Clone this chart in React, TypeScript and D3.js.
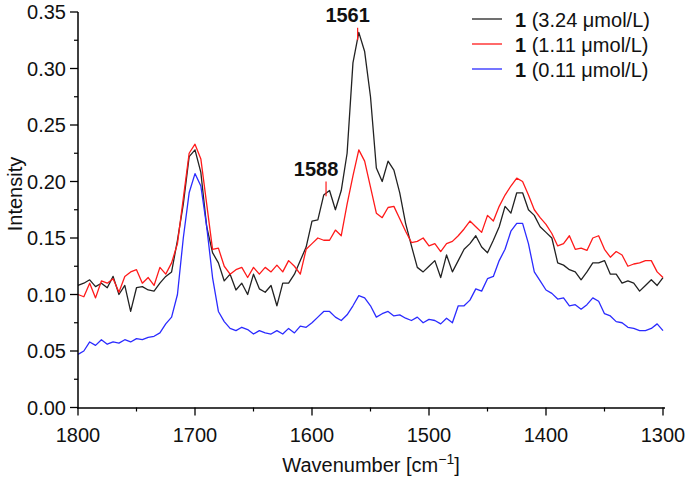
import React from "react";
import * as d3 from "d3";

// sample wavenumbers (cm^-1), 1800 -> 1300 every 5
const wavenumbers: number[] = d3.range(1800, 1299, -5);

const black324: number[] = [
  0.108, 0.11, 0.113, 0.107, 0.11, 0.106, 0.116, 0.1, 0.108, 0.085,
  0.106, 0.107, 0.104, 0.103, 0.11, 0.116, 0.12, 0.148, 0.18, 0.222,
  0.228, 0.208, 0.16, 0.137, 0.128, 0.112, 0.118, 0.104, 0.11, 0.1,
  0.118, 0.105, 0.102, 0.108, 0.09, 0.11, 0.11, 0.118, 0.13, 0.142,
  0.165, 0.166, 0.188, 0.192, 0.175, 0.192, 0.225, 0.305, 0.332, 0.315,
  0.275, 0.212, 0.2, 0.218, 0.21, 0.19, 0.163, 0.143, 0.124, 0.12,
  0.125, 0.13, 0.115, 0.135, 0.12, 0.13, 0.14, 0.145, 0.152, 0.142,
  0.137, 0.148, 0.16, 0.178, 0.172, 0.19, 0.19, 0.175, 0.17, 0.16,
  0.155, 0.15, 0.128, 0.126, 0.122, 0.12, 0.113, 0.12, 0.128, 0.128,
  0.13, 0.118, 0.118, 0.11, 0.112, 0.11, 0.103, 0.108, 0.113, 0.108,
  0.115,
];

const red111: number[] = [
  0.1, 0.098, 0.11, 0.097, 0.112, 0.11, 0.114, 0.102, 0.116, 0.12,
  0.122, 0.11, 0.115, 0.108, 0.124, 0.118, 0.128, 0.145, 0.185, 0.225,
  0.233, 0.22, 0.18, 0.14, 0.141, 0.125, 0.118, 0.122, 0.124, 0.115,
  0.124, 0.118, 0.124, 0.12, 0.126, 0.12, 0.13, 0.125, 0.118, 0.14,
  0.145, 0.15, 0.148, 0.148, 0.157, 0.152, 0.18, 0.205, 0.228, 0.218,
  0.195, 0.172, 0.168, 0.177, 0.178, 0.167, 0.156, 0.146, 0.147, 0.15,
  0.143, 0.145, 0.138, 0.145, 0.147, 0.152, 0.158, 0.165, 0.16, 0.155,
  0.17, 0.165, 0.178, 0.188, 0.196, 0.203, 0.2, 0.188, 0.175, 0.168,
  0.162, 0.154, 0.143, 0.145, 0.152, 0.14, 0.141, 0.139, 0.15, 0.152,
  0.14, 0.133, 0.138, 0.135, 0.125, 0.127, 0.128, 0.13, 0.13, 0.12,
  0.115,
];

const blue011: number[] = [
  0.047, 0.05, 0.058, 0.055, 0.06, 0.056, 0.058, 0.057, 0.06, 0.058,
  0.061, 0.06, 0.062, 0.063, 0.066, 0.074, 0.08, 0.1, 0.15, 0.19,
  0.207, 0.196, 0.16, 0.115, 0.085, 0.076, 0.07, 0.068, 0.071, 0.069,
  0.065, 0.068, 0.066, 0.065, 0.068, 0.065, 0.07, 0.066, 0.072, 0.071,
  0.075, 0.08, 0.085, 0.085, 0.08, 0.077, 0.082, 0.09, 0.099, 0.097,
  0.09, 0.08, 0.083, 0.085, 0.081, 0.082, 0.079, 0.077, 0.08, 0.075,
  0.078, 0.077, 0.074, 0.079, 0.075, 0.09, 0.09, 0.095, 0.105, 0.103,
  0.114, 0.116, 0.13, 0.14, 0.156, 0.163, 0.163, 0.145, 0.12, 0.112,
  0.104, 0.101, 0.096, 0.097, 0.09, 0.091, 0.087, 0.091, 0.097, 0.094,
  0.083, 0.081, 0.076, 0.075, 0.071, 0.07, 0.068, 0.068, 0.07, 0.074,
  0.068,
];

const seriesNames: string[] = ["3.24 μmol/L", "1.11 μmol/L", "0.11 μmol/L"];
const seriesColors: string[] = ["#222222", "#ff1a1a", "#2b2bff"];
const seriesValues: number[][] = [black324, red111, blue011];

const yTicks: number[] = [0, 0.05, 0.1, 0.15, 0.2, 0.25, 0.3, 0.35];
const yMinor: number[] = [0.025, 0.075, 0.125, 0.175, 0.225, 0.275, 0.325];
const xTicks: number[] = [1800, 1700, 1600, 1500, 1400, 1300];
const xMinor: number[] = [1750, 1650, 1550, 1450, 1350];

const peakLabels: { w: number; lo: number; hi: number }[] = [
  { w: 1561, lo: 0.325, hi: 0.336 },
  { w: 1588, lo: 0.187, hi: 0.2 },
];

const FONT = "'Liberation Sans', Arial, sans-serif";

export default function App() {
  const x = d3.scaleLinear().domain([1800, 1300]).range([78, 663]);
  const y = d3.scaleLinear().domain([0, 0.35]).range([407.5, 12]);

  const line = d3
    .line<number>()
    .x((_, i) => x(wavenumbers[i]))
    .y((d) => y(d));

  const axisColor = "#000";
  const fs = 20;

  return (
    <svg
      width={689}
      height={480}
      style={{ position: "absolute", left: 0, top: 0, background: "#fff" }}
      fontFamily={FONT}
    >
      <rect x={0} y={0} width={689} height={480} fill="#fff" />

      {/* series */}
      {seriesValues.map((vals, k) => (
        <path
          key={k}
          d={line(vals) || ""}
          fill="none"
          stroke={seriesColors[k]}
          strokeWidth={1.3}
          strokeLinejoin="round"
        />
      ))}

      {/* peak markers */}
      {peakLabels.map((p) => (
        <g key={p.w}>
          <line
            x1={x(p.w)}
            x2={x(p.w)}
            y1={y(p.lo)}
            y2={y(p.hi)}
            stroke="#ff1a1a"
            strokeWidth={1.2}
          />
          <text
            x={x(p.w) - 10}
            y={y(p.hi) - 6}
            textAnchor="middle"
            fontWeight="bold"
            fontSize={fs}
            fill="#111"
          >
            {p.w}
          </text>
        </g>
      ))}

      {/* y axis */}
      <line x1={78} x2={78} y1={y(0.35)} y2={y(0) + 1} stroke={axisColor} strokeWidth={1.5} />
      {yTicks.map((t) => (
        <g key={t}>
          <line x1={70} x2={78} y1={y(t)} y2={y(t)} stroke={axisColor} strokeWidth={1.3} />
          <text
            x={66}
            y={y(t)}
            dy="0.36em"
            textAnchor="end"
            fontSize={fs}
            fill="#111"
          >
            {t.toFixed(2)}
          </text>
        </g>
      ))}
      {yMinor.map((t) => (
        <line key={t} x1={74} x2={78} y1={y(t)} y2={y(t)} stroke={axisColor} strokeWidth={1.2} />
      ))}

      {/* x axis */}
      <line x1={77} x2={665} y1={y(0) + 0.5} y2={y(0) + 0.5} stroke={axisColor} strokeWidth={1.5} />
      {xTicks.map((t) => (
        <g key={t}>
          <line x1={x(t)} x2={x(t)} y1={y(0)} y2={y(0) + 8} stroke={axisColor} strokeWidth={1.3} />
          <text x={x(t)} y={y(0) + 34} textAnchor="middle" fontSize={fs} fill="#111">
            {t}
          </text>
        </g>
      ))}
      {xMinor.map((t) => (
        <line key={t} x1={x(t)} x2={x(t)} y1={y(0)} y2={y(0) + 4} stroke={axisColor} strokeWidth={1.2} />
      ))}

      {/* axis titles */}
      <text x={371} y={472} textAnchor="middle" fontSize={fs} fill="#111">
        Wavenumber [cm
        <tspan fontSize={14} dy={-8}>
          −1
        </tspan>
        <tspan dy={8}>]</tspan>
      </text>
      <text
        transform="translate(22,194) rotate(-90)"
        textAnchor="middle"
        fontSize={fs}
        fill="#111"
      >
        Intensity
      </text>

      {/* legend */}
      {seriesNames.map((name, k) => {
        const cy = 19 + k * 25;
        return (
          <g key={name}>
            <line x1={472} x2={502} y1={cy} y2={cy} stroke={seriesColors[k]} strokeWidth={1.3} />
            <text x={515} y={cy + 7.5} fontSize={fs} fill="#111">
              <tspan fontWeight="bold">1</tspan> ({name})
            </text>
          </g>
        );
      })}
    </svg>
  );
}
